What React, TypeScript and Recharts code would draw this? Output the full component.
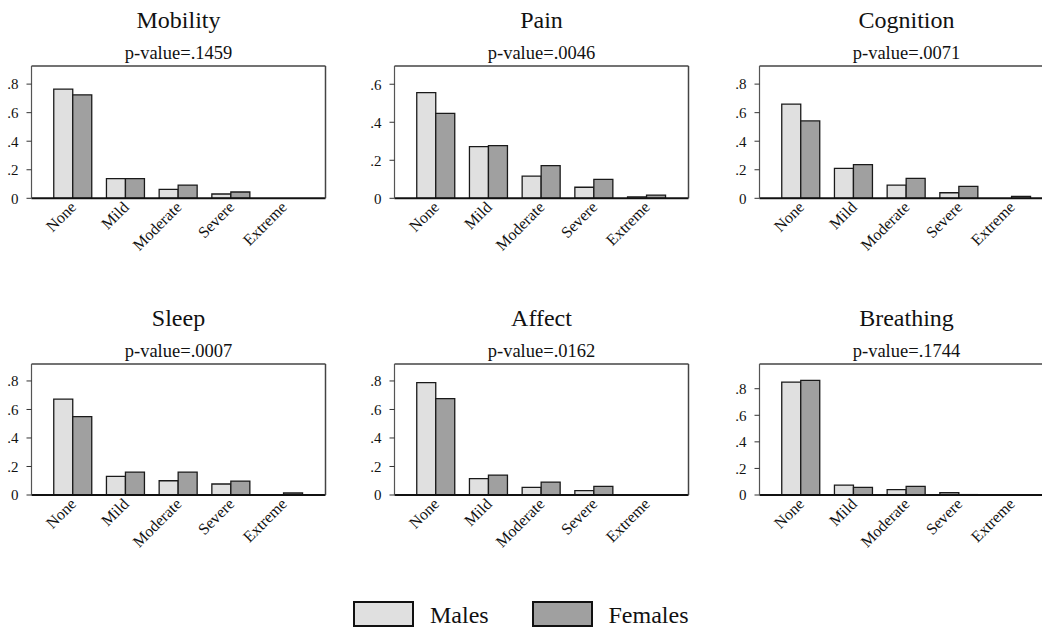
import { BarChart, Bar, XAxis, YAxis } from 'recharts'

const categories = ['None', 'Mild', 'Moderate', 'Severe', 'Extreme']

const mobilityMales = [0.765, 0.138, 0.063, 0.03, 0]
const mobilityFemales = [0.725, 0.138, 0.093, 0.044, 0]
const painMales = [0.556, 0.272, 0.117, 0.058, 0.008]
const painFemales = [0.447, 0.277, 0.172, 0.1, 0.017]
const cognitionMales = [0.66, 0.21, 0.093, 0.039, 0]
const cognitionFemales = [0.542, 0.236, 0.14, 0.084, 0.014]
const sleepMales = [0.672, 0.131, 0.1, 0.077, 0]
const sleepFemales = [0.55, 0.161, 0.161, 0.098, 0.014]
const affectMales = [0.788, 0.115, 0.054, 0.03, 0]
const affectFemales = [0.676, 0.14, 0.091, 0.061, 0]
const breathingMales = [0.85, 0.075, 0.04, 0.017, 0]
const breathingFemales = [0.863, 0.058, 0.065, 0.003, 0]

const ticksTo8 = [0, 0.2, 0.4, 0.6, 0.8]
const ticksTo6 = [0, 0.2, 0.4, 0.6]

const FONT = '"Liberation Serif", "Times New Roman", serif'
const MALE_FILL = '#e0e0e0'
const FEMALE_FILL = '#a0a0a0'
const OUTLINE = '#1a1a1a'

const buildRows = (males: number[], females: number[]) =>
  categories.map((cat, i) => ({ cat, males: males[i], females: females[i] }))

// y labels look like ".8", ".6" ... "0"
const fmtTick = (v: number) => (v === 0 ? '0' : v.toFixed(1).replace(/^0/, ''))

const SlantTick = (props: any) => {
  const { x, y, payload } = props
  const ax = x + 4
  const ay = y + 10
  return (
    <text
      x={ax}
      y={ay}
      transform={`rotate(-45, ${ax}, ${ay})`}
      textAnchor="end"
      fontSize={16}
      fontFamily={FONT}
      fill="#111"
    >
      {payload.value}
    </text>
  )
}

interface PanelProps {
  title: string
  pvalue: string
  males: number[]
  females: number[]
  yMax: number
  ticks: number[]
  left: number
  top: number
  plotHeight: number
}

function Panel({ title, pvalue, males, females, yMax, ticks, left, top, plotHeight }: PanelProps) {
  const data = buildRows(males, females)
  const plotLeft = left + 31.5
  const centerX = plotLeft + 147
  return (
    <>
      <div
        style={{
          position: 'absolute',
          left: centerX - 150,
          width: 300,
          top: top - 58,
          textAlign: 'center',
          fontSize: 24,
          lineHeight: '24px',
          color: '#111',
          fontFamily: FONT,
        }}
      >
        {title}
      </div>
      <div
        style={{
          position: 'absolute',
          left: centerX - 150,
          width: 300,
          top: top - 22.5,
          textAlign: 'center',
          fontSize: 18.5,
          lineHeight: '18px',
          color: '#111',
          fontFamily: FONT,
        }}
      >
        {pvalue}
      </div>
      <div style={{ position: 'absolute', left, top: top - 2 }}>
        <BarChart
          width={31.5 + 294 + 2}
          height={2 + plotHeight + 62}
          data={data}
          margin={{ top: 1, right: 1, left: 0, bottom: 0 }}
          barCategoryGap={7}
          barGap={0}
        >
          <XAxis
            dataKey="cat"
            interval={0}
            padding={{ left: 15.25, right: 15.25 }}
            axisLine={{ stroke: '#111', strokeWidth: 2 }}
            tickLine={false}
            tickSize={0}
            tickMargin={0}
            tick={<SlantTick />}
            height={62}
          />
          <XAxis
            xAxisId="top"
            orientation="top"
            dataKey="cat"
            height={1}
            tick={false}
            tickLine={false}
            axisLine={{ stroke: '#444', strokeWidth: 1.5 }}
          />
          <YAxis
            domain={[0, yMax]}
            ticks={ticks}
            allowDataOverflow
            width={31.5}
            tickSize={5}
            tickMargin={8}
            tickFormatter={fmtTick}
            tick={{ fontSize: 15, fontFamily: FONT, fill: '#111' }}
            tickLine={{ stroke: '#333' }}
            axisLine={{ stroke: '#555', strokeWidth: 1.2 }}
          />
          <YAxis
            yAxisId="right"
            orientation="right"
            width={1}
            tick={false}
            tickLine={false}
            axisLine={{ stroke: '#444', strokeWidth: 1.5 }}
          />
          <Bar dataKey="males" fill={MALE_FILL} stroke={OUTLINE} strokeWidth={1.3} isAnimationActive={false} />
          <Bar dataKey="females" fill={FEMALE_FILL} stroke={OUTLINE} strokeWidth={1.3} isAnimationActive={false} />
        </BarChart>
      </div>
    </>
  )
}

const legendItems = [
  { name: 'Males', fill: MALE_FILL, left: 353 },
  { name: 'Females', fill: FEMALE_FILL, left: 531.5 },
]

export default function App() {
  return (
    <div
      style={{
        position: 'absolute',
        left: 0,
        top: 0,
        width: 1042,
        height: 631,
        overflow: 'hidden',
        background: '#fff',
        fontFamily: FONT,
      }}
    >
      <Panel title="Mobility" pvalue="p-value=.1459" males={mobilityMales} females={mobilityFemales}
        yMax={0.927} ticks={ticksTo8} left={0} top={66} plotHeight={132.3} />
      <Panel title="Pain" pvalue="p-value=.0046" males={painMales} females={painFemales}
        yMax={0.696} ticks={ticksTo6} left={363} top={66} plotHeight={132.3} />
      <Panel title="Cognition" pvalue="p-value=.0071" males={cognitionMales} females={cognitionFemales}
        yMax={0.927} ticks={ticksTo8} left={728} top={66} plotHeight={132.3} />
      <Panel title="Sleep" pvalue="p-value=.0007" males={sleepMales} females={sleepFemales}
        yMax={0.919} ticks={ticksTo8} left={0} top={364} plotHeight={131} />
      <Panel title="Affect" pvalue="p-value=.0162" males={affectMales} females={affectFemales}
        yMax={0.919} ticks={ticksTo8} left={363} top={364} plotHeight={131} />
      <Panel title="Breathing" pvalue="p-value=.1744" males={breathingMales} females={breathingFemales}
        yMax={0.986} ticks={ticksTo8} left={728} top={364} plotHeight={131} />

      {legendItems.map((item) => (
        <div key={item.name}>
          <div
            style={{
              position: 'absolute',
              left: item.left,
              top: 601,
              width: 57,
              height: 22,
              background: item.fill,
              border: '2px solid #111',
            }}
          />
          <div
            style={{
              position: 'absolute',
              left: item.left + 77,
              top: 603,
              fontSize: 24,
              lineHeight: '24px',
              color: '#111',
            }}
          >
            {item.name}
          </div>
        </div>
      ))}
    </div>
  )
}
